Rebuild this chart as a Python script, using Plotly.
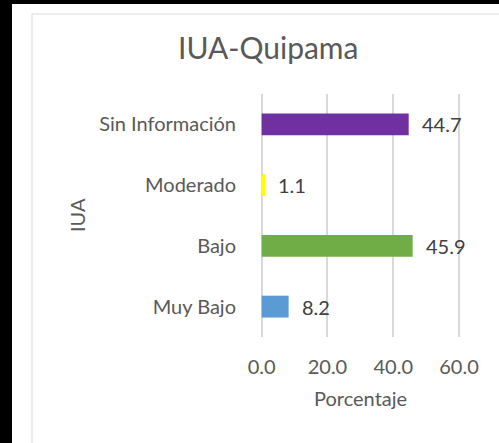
import plotly.graph_objects as go

categories = ["Muy Bajo", "Bajo", "Moderado", "Sin Información"]
values = [8.2, 45.9, 1.1, 44.7]
colors = ["#5B9BD5", "#70AD47", "#FFFF00", "#7030A0"]
x_ticks = [0, 20, 40, 60]
x_tick_labels = ["0.0", "20.0", "40.0", "60.0"]

W, H = 499, 443
L, R, T, B = 261, 38, 94, 106
pw = W - L - R
ph = H - T - B

def px(x):
    return (x - L) / pw

def py(y):
    return 1 - (y - T) / ph

FONT = "Lato"
GREY = "#595959"
FS = 20
GRID = "#D9D9D9"

fig = go.Figure(go.Bar(
    y=categories, x=values, orientation="h",
    marker=dict(color=colors, line=dict(width=0)),
    width=0.36,
    hoverinfo="skip",
))

label_annotations = [
    dict(text=f"{v:.1f}", x=v, y=c, xref="x", yref="y", showarrow=False,
         xanchor="left", yanchor="middle", xshift=11,
         font=dict(size=FS, color="#404040", family=FONT))
    for c, v in zip(categories, values)
]

fig.update_layout(
    width=W, height=H, autosize=False,
    margin=dict(l=L, r=R, t=T, b=B, pad=0),
    paper_bgcolor="white", plot_bgcolor="white",
    showlegend=False,
    font=dict(family=FONT, color=GREY),
    xaxis=dict(range=[-0.2, 60.6], tickvals=x_ticks, ticktext=x_tick_labels,
               showgrid=True, gridcolor=GRID, gridwidth=1.5,
               zeroline=True, zerolinecolor=GRID, zerolinewidth=1.5, showline=False,
               tickfont=dict(size=FS, color=GREY), ticks="", ticklabelstandoff=16),
    yaxis=dict(showgrid=False, zeroline=False, showline=False,
               tickfont=dict(size=FS, color=GREY), ticks="", ticklabelstandoff=24),
    shapes=[
        dict(type="rect", xref="paper", yref="paper",
             x0=px(32), x1=px(520), y0=py(14), y1=py(460),
             line=dict(color="#D9D9D9", width=1), fillcolor="rgba(0,0,0,0)", layer="below"),
        dict(type="rect", xref="paper", yref="paper",
             x0=px(-5), x1=px(12), y0=py(-5), y1=py(460),
             line=dict(width=0), fillcolor="black"),
        dict(type="rect", xref="paper", yref="paper",
             x0=px(-5), x1=px(510), y0=py(-5), y1=py(4),
             line=dict(width=0), fillcolor="black"),
    ],
    annotations=label_annotations + [
        dict(text="IUA-Quipama", xref="paper", yref="paper", x=px(268), y=py(47),
             showarrow=False, font=dict(size=30, color=GREY, family=FONT),
             xanchor="center", yanchor="middle"),
        dict(text="IUA", xref="paper", yref="paper", x=px(77), y=py(215),
             showarrow=False, textangle=-90, font=dict(size=FS, color=GREY, family=FONT),
             xanchor="center", yanchor="middle"),
        dict(text="Porcentaje", xref="paper", yref="paper", x=px(360), y=py(398),
             showarrow=False, font=dict(size=FS, color=GREY, family=FONT),
             xanchor="center", yanchor="middle"),
    ],
)

fig.write_html("out.html", config={"displayModeBar": False},
               post_script="document.body.style.margin='0';document.body.style.padding='0';")
